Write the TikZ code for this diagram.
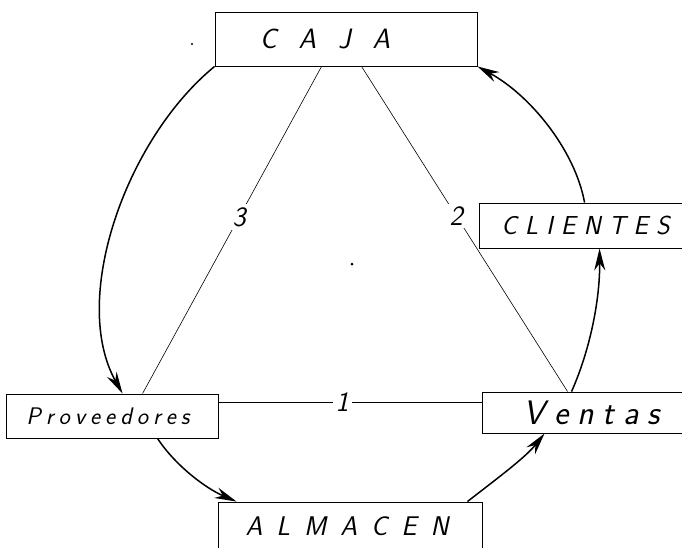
\documentclass[tikz,border=0pt]{standalone}
\usepackage{fontspec}
\usetikzlibrary{arrows.meta,calc}
\begin{document}
\begin{tikzpicture}[x=1pt,y=-1pt,
  box/.style={draw, line width=0.9pt, inner sep=0pt, rectangle},
  hand/.style={font=\sffamily\itshape\fontsize{#1}{#1}\selectfont},
  flow/.style={line width=1.5pt, -{Stealth[length=22pt,width=11pt]}},
  link/.style={line width=0.6pt},
  num/.style={font=\sffamily\itshape\fontsize{28}{28}\selectfont, fill=white, inner sep=3pt}]
\useasboundingbox (0,0) rectangle (682,547);
% boxes
\node[box, minimum width=262pt, minimum height=54pt, hand=28] (caja) at (346,39)
  {C\kern22pt A\kern22pt J\kern22pt A\hspace*{42pt}\mbox{}};
\node[box, minimum width=213pt, minimum height=45pt, hand=26] (clientes) at (585.5,225.5)
  {C\kern8pt L\kern8pt I\kern8pt E\kern8pt N\kern8pt T\kern8pt E\kern8pt S};
\node[box, minimum width=212pt, minimum height=44pt, hand=24] (prov) at (112,416)
  {P\kern5pt r\kern5pt o\kern5pt v\kern5pt e\kern5pt e\kern5pt d\kern5pt o\kern5pt r\kern5pt e\kern5pt s\hspace*{8pt}\mbox{}};
\node[box, minimum width=210pt, minimum height=41pt, hand=34] (ventas) at (587,412.5)
  {\mbox{}\hspace*{10pt}V\kern9pt e\kern9pt n\kern9pt t\kern9pt a\kern9pt s};
\node[box, minimum width=264pt, minimum height=48pt, hand=27] (almacen) at (350,526)
  {A\kern14pt L\kern14pt M\kern14pt A\kern14pt C\kern14pt E\kern14pt N\hspace*{6pt}\mbox{}};
% straight links
\draw[link] ($(caja.south west)+(107,0)$) -- node[num, pos=0.46] (n3) {3} ($(prov.north west)+(137,0)$);
\draw[link] ($(caja.south west)+(147,0)$) -- node[num, pos=0.46] (n2) {2} ($(ventas.north west)+(86,0)$);
\draw[link] ($(prov.north east)+(0,9)$) -- node[num, pos=0.47] (n1) {1} ($(ventas.north west)+(0,11)$);
% curved flows
\draw[flow] (caja.south west) .. controls (125,140) and (70,300) .. ($(prov.north west)+(117,0)$);
\draw[flow] ($(prov.south west)+(152,0)$) .. controls (175,465) and (205,488) .. ($(almacen.north west)+(19,0)$);
\draw[flow] ($(almacen.north east)+(-15,0)$) .. controls (495,480) and (525,458) .. ($(ventas.south west)+(63,0)$);
\draw[flow] ($(ventas.north west)+(90,0)$) .. controls (590,350) and (600,300) .. ($(clientes.south west)+(121,0)$);
\draw[flow] ($(clientes.north west)+(106,0)$) .. controls (575,150) and (530,95) .. (caja.south east);
% dots
\fill (352,264) circle (1.5pt);
\fill (192,44) circle (1.2pt);
\end{tikzpicture}
\end{document}
